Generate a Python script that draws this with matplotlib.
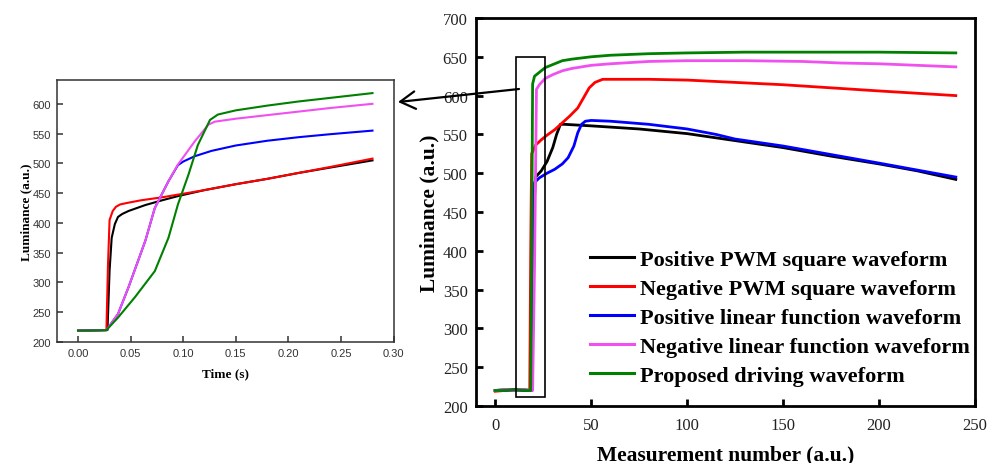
import matplotlib
matplotlib.use("Agg")
import matplotlib.pyplot as plt
from matplotlib.patches import Rectangle, FancyArrowPatch

# ---------------- data: main chart (measurement number) ----------------
pos_pwm_x = [0, 5, 10, 15, 19, 19.5, 20.5, 21, 24, 27, 30, 32, 34, 36, 50, 75, 100, 125, 150, 175, 200, 220, 240]
pos_pwm_y = [220, 221, 220, 221, 220, 350, 470, 495, 503, 515, 533, 550, 563, 563, 561, 557, 551, 542, 533, 522, 512, 503, 492]

neg_pwm_x = [0, 5, 10, 15, 18, 18.5, 19, 21, 24, 27, 31, 35, 39, 43, 46, 49, 52, 56, 60, 80, 100, 125, 150, 175, 200, 220, 240]
neg_pwm_y = [219, 220, 221, 220, 220, 400, 525, 536, 543, 549, 556, 565, 574, 584, 597, 610, 617, 621, 621, 621, 620, 617, 614, 610, 606, 603, 600]

pos_lin_x = [0, 5, 10, 15, 19, 19.5, 20.5, 23, 27, 31, 35, 38, 41, 43, 45, 47, 50, 60, 80, 100, 115, 125, 150, 175, 200, 220, 240]
pos_lin_y = [220, 220, 221, 220, 220, 350, 488, 494, 500, 505, 512, 520, 535, 552, 563, 567, 568, 567, 563, 557, 550, 544, 535, 524, 513, 504, 495]

neg_lin_x = [0, 5, 10, 15, 19.5, 20.5, 21.5, 23, 26, 30, 35, 40, 50, 60, 80, 100, 130, 160, 180, 200, 220, 240]
neg_lin_y = [220, 221, 220, 221, 220, 380, 608, 614, 622, 627, 632, 635, 639, 641, 644, 645, 645, 644, 642, 641, 639, 637]

proposed_x = [0, 5, 10, 15, 18.5, 19, 19.5, 20.5, 23, 26, 30, 35, 40, 50, 60, 80, 100, 130, 160, 200, 240]
proposed_y = [220, 220, 221, 220, 220, 400, 615, 625, 630, 636, 640, 645, 647, 650, 652, 654, 655, 656, 656, 656, 655]

# ---------------- data: inset (time) ----------------
t_pos_pwm = [0, 0.028, 0.030, 0.032, 0.035, 0.038, 0.042, 0.048, 0.064, 0.080, 0.095, 0.120, 0.150, 0.180, 0.210, 0.240, 0.280]
v_pos_pwm = [219, 220, 320, 375, 398, 410, 415, 420, 430, 438, 445, 455, 465, 474, 484, 493, 505]

t_neg_pwm = [0, 0.027, 0.0285, 0.030, 0.033, 0.036, 0.040, 0.048, 0.060, 0.080, 0.100, 0.120, 0.150, 0.180, 0.210, 0.240, 0.280]
v_neg_pwm = [219, 220, 330, 405, 420, 427, 431, 434, 438, 443, 449, 455, 465, 474, 484, 494, 508]

t_pos_lin = [0, 0.027, 0.038, 0.048, 0.064, 0.073, 0.086, 0.095, 0.100, 0.111, 0.127, 0.150, 0.180, 0.210, 0.240, 0.280]
v_pos_lin = [219, 220, 247, 292, 370, 425, 470, 497, 503, 512, 521, 530, 538, 544, 549, 555]

t_neg_lin = [0, 0.027, 0.038, 0.048, 0.064, 0.073, 0.086, 0.095, 0.111, 0.124, 0.130, 0.150, 0.180, 0.210, 0.240, 0.280]
v_neg_lin = [219, 220, 247, 292, 370, 425, 470, 498, 537, 565, 570, 575, 581, 587, 593, 600]

t_proposed = [0, 0.027, 0.038, 0.054, 0.073, 0.086, 0.095, 0.105, 0.114, 0.1255, 0.133, 0.150, 0.180, 0.210, 0.240, 0.280]
v_proposed = [219, 220, 241, 275, 319, 375, 431, 481, 531, 573, 582, 589, 597, 604, 610, 618]

labels = ["Positive PWM square waveform", "Negative PWM square waveform",
          "Positive linear function waveform", "Negative linear function waveform",
          "Proposed driving waveform"]
colors = ["#000000", "#ff0000", "#0000ff", "#f050f0", "#008000"]

main_x_ticks = [0, 50, 100, 150, 200, 250]
main_y_ticks = [200, 250, 300, 350, 400, 450, 500, 550, 600, 650, 700]
inset_x_ticks = [0.00, 0.05, 0.10, 0.15, 0.20, 0.25, 0.30]
inset_y_ticks = [200, 250, 300, 350, 400, 450, 500, 550, 600]

SERIF = ["Liberation Serif", "DejaVu Serif"]

fig = plt.figure(figsize=(9.97, 4.64), dpi=100)

# ---------------- main axes ----------------
ax = fig.add_axes([476/997, 1-407/464, 499/997, 388/464])
main_series = [(pos_pwm_x, pos_pwm_y), (neg_pwm_x, neg_pwm_y), (pos_lin_x, pos_lin_y),
               (neg_lin_x, neg_lin_y), (proposed_x, proposed_y)]
handles = []
for (xs, ys), c, lab in zip(main_series, colors, labels):
    h, = ax.plot(xs, ys, color=c, lw=2.0, label=lab, solid_joinstyle="round")
    handles.append(h)
ax.set_xlim(-10, 250)
ax.set_ylim(200, 700)
ax.set_xticks(main_x_ticks)
ax.set_yticks(main_y_ticks)
for s in ax.spines.values():
    s.set_linewidth(2.0)
ax.tick_params(direction="in", length=5, width=2, labelsize=12, colors="#000000",
               labelcolor="#222222")
ax.tick_params(axis="x", pad=8)
ax.tick_params(axis="y", pad=6)
for lbl in ax.get_xticklabels() + ax.get_yticklabels():
    lbl.set_family(SERIF)
ax.set_xlabel("Measurement number (a.u.)", fontsize=15.5, fontweight="bold",
              family=SERIF, labelpad=8)
ax.set_ylabel("Luminance (a.u.)", fontsize=15.5, fontweight="bold",
              family=SERIF, labelpad=2)
ax.add_patch(Rectangle((11, 212), 15, 438, fill=False, lw=1.2, ec="black", zorder=5))
leg = ax.legend(handles=handles, loc="center left", bbox_to_anchor=(0.228, 0.227),
                frameon=False, borderpad=0, borderaxespad=0, handlelength=2.0,
                handletextpad=0.25, labelspacing=0.38,
                prop={"family": SERIF, "weight": "bold", "size": 16})
for lh in leg.get_lines():
    lh.set_linewidth(2.2)

# ---------------- inset axes ----------------
ax2 = fig.add_axes([57/997, 1-343/464, 336.5/997, 262/464])
inset_series = [(t_pos_pwm, v_pos_pwm), (t_neg_pwm, v_neg_pwm), (t_pos_lin, v_pos_lin),
                (t_neg_lin, v_neg_lin), (t_proposed, v_proposed)]
for (xs, ys), c in zip(inset_series, colors):
    ax2.plot(xs, ys, color=c, lw=1.5)
ax2.set_xlim(-0.02, 0.30)
ax2.set_ylim(200, 640)
ax2.set_xticks(inset_x_ticks)
ax2.set_xticklabels([f"{v:.2f}" for v in inset_x_ticks])
ax2.set_yticks(inset_y_ticks)
for s in ax2.spines.values():
    s.set_linewidth(1.1)
    s.set_color("#333333")
ax2.tick_params(direction="in", length=4, width=1.1, labelsize=8, colors="#333333",
                labelcolor="#333333", pad=4.3)
for lbl in ax2.get_xticklabels() + ax2.get_yticklabels():
    lbl.set_family(["Liberation Sans", "DejaVu Sans"])
ax2.set_xlabel("Time (s)", fontsize=9.5, fontweight="bold", family=SERIF, labelpad=7)
ax2.set_ylabel("Luminance (a.u.)", fontsize=9.5, fontweight="bold", family=SERIF, labelpad=0.5)

# ---------------- arrow from box to inset ----------------
arrow = FancyArrowPatch(posA=(519/997, 1-90/464), posB=(398/997, 1-103/464),
                        transform=fig.transFigure, arrowstyle="->,head_length=0.6,head_width=0.35",
                        mutation_scale=18, lw=1.6, color="black", shrinkA=0, shrinkB=0)
fig.add_artist(arrow)

fig.savefig("out.png", dpi=100)
